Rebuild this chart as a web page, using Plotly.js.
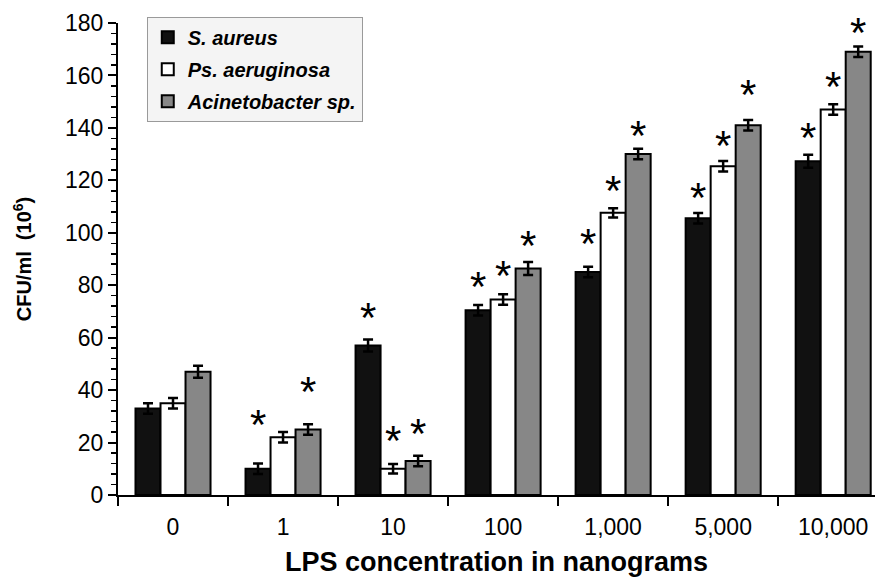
<!DOCTYPE html>
<html>
<head>
<meta charset="utf-8">
<script src="https://cdn.plot.ly/plotly-3.0.1.min.js"></script>
<style>html,body{margin:0;padding:0;background:#fff;}#chart{width:875px;height:580px;}</style>
</head>
<body>
<div id="chart"></div>
<script>
// ---- data ----
const categories = ["0", "1", "10", "100", "1,000", "5,000", "10,000"];
const seriesNames = ["S. aureus", "Ps. aeruginosa", "Acinetobacter sp."];
const saureus = [33, 10, 57, 70.5, 85, 105.5, 127.3];
const saureusErr = [2, 2, 2.3, 2, 2, 2, 2.5];
const psaer = [35, 22, 10, 74.6, 107.6, 125.4, 147];
const psaerErr = [2, 2, 1.8, 2, 1.8, 2, 2];
const acineto = [47, 25, 13, 86.4, 130, 141, 169];
const acinetoErr = [2.3, 2, 2, 2.5, 2, 2, 2];
// asterisk (significance) marker heights, in CFU/ml units; null = none
const starSa = [null, 29.4, 70.3, 82, 98.5, 116, 138.9];
const starPs = [null, null, 23.5, 86.4, 118.8, 136, 158.6];
const starAc = [null, 42.3, 26, 97.9, 139.8, 155.4, 179.2];

const FONT = "Liberation Sans, Arial, Helvetica, sans-serif";
const fills = ["#111111", "#ffffff", "#878787"];
const vals = [saureus, psaer, acineto];
const errs = [saureusErr, psaerErr, acinetoErr];

const traces = vals.map((v, i) => ({
  type: "bar",
  name: seriesNames[i],
  x: categories,
  y: v,
  legendgroup: "g" + i,
  marker: { color: fills[i], line: { color: "#000", width: 2 } },
  error_y: { type: "data", array: errs[i], visible: true, color: "#000", thickness: 2.5, width: 5 },
  hoverinfo: "x+y"
}));

const stars = [starSa, starPs, starAc];
const shifts = [-25, 0, 25];
const annotations = [];
stars.forEach((arr, s) => {
  arr.forEach((yv, k) => {
    if (yv === null) return;
    annotations.push({
      x: k, y: yv, xref: "x", yref: "y",
      xshift: shifts[s], yshift: -7,
      text: "*", showarrow: false,
      xanchor: "center", yanchor: "middle",
      font: { family: FONT, size: 42, color: "#000" }
    });
  });
});

const layout = {
  width: 875, height: 580,
  margin: { l: 118, r: 0, t: 23, b: 85 },
  paper_bgcolor: "#fff", plot_bgcolor: "#fff",
  font: { family: FONT, color: "#000" },
  barmode: "group",
  bargap: 0.318,
  bargroupgap: 0,
  showlegend: true,
  legend: {
    x: 0.038, y: 1.013, xanchor: "left", yanchor: "top",
    bgcolor: "#f4f4f4", bordercolor: "#9a9a9a", borderwidth: 1,
    font: { family: FONT, size: 20, weight: "bold", style: "italic", color: "#000" },
    traceorder: "grouped", tracegroupgap: 3, itemwidth: 30
  },
  xaxis: {
    type: "category",
    range: [-0.5, 6.38],
    tickson: "boundaries",
    ticks: "outside", ticklen: 9, tickwidth: 2, tickcolor: "#000",
    ticklabelstandoff: 10,
    showline: true, linecolor: "#000", linewidth: 2,
    showgrid: false, zeroline: false,
    tickfont: { family: FONT, size: 23, color: "#000" },
    title: { text: "<b>LPS concentration in nanograms</b>", font: { family: FONT, size: 27, color: "#000" }, standoff: 14 },
    fixedrange: true
  },
  yaxis: {
    range: [0, 180],
    dtick: 20,
    ticks: "outside", ticklen: 8, tickwidth: 2, tickcolor: "#000",
    minor: { dtick: 4, ticks: "outside", ticklen: 5, tickwidth: 1.5, tickcolor: "#000" },
    showline: true, linecolor: "#000", linewidth: 2,
    showgrid: false, zeroline: false,
    tickfont: { family: FONT, size: 23, color: "#000" },
    title: { text: "<b>CFU/ml  (10<sup>6</sup>)</b>", font: { family: FONT, size: 20, color: "#000" }, standoff: 28 },
    fixedrange: true
  },
  yaxis2: {
    overlaying: "y", side: "left", anchor: "x",
    range: [0, 180], dtick: 20,
    ticks: "inside", ticklen: 6, tickwidth: 2, tickcolor: "#000",
    showticklabels: false, showline: false, showgrid: false, zeroline: false,
    fixedrange: true
  },
  annotations: annotations
};

Plotly.newPlot("chart", traces, layout, { displayModeBar: false, staticPlot: true });
</script>
</body>
</html>
